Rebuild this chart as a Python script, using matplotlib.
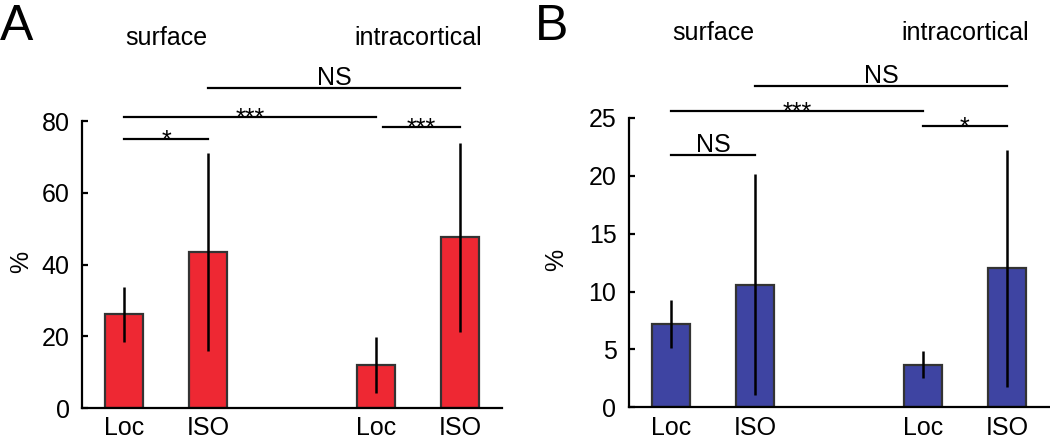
import matplotlib.pyplot as plt
import matplotlib.transforms as mtransforms
import numpy as np

plt.rcParams['font.family'] = ['Liberation Sans', 'DejaVu Sans']

# bar labels, positions along x (group gap after the 2nd bar)
labels = ['Loc', 'ISO', 'Loc', 'ISO']
xpos = [1, 2, 4, 5]

# panel A
vals_a = [26.1, 43.6, 12.0, 47.6]
err_a = [7.7, 27.6, 7.8, 26.3]
# panel B
vals_b = [7.2, 10.6, 3.7, 12.0]
err_b = [2.1, 9.5, 1.2, 10.2]

# significance bars: (x1, x2, y, label)
sig_a = [(1, 2, 75.1, '*'), (1, 4, 81.1, '***'), (4.08, 5, 78.3, '***'), (2, 5, 89.2, 'NS')]
sig_b = [(1, 2, 21.8, 'NS'), (1, 4, 25.6, '***'), (4, 5, 24.3, '*'), (2, 5, 27.7, 'NS')]


def draw_panel(ax, vals, errs, color, ymax, yticks, sigs, ylab_x):
  ax.bar(xpos, vals, width=0.46, color=color, edgecolor='#333333', linewidth=1.6, zorder=2)
  ax.errorbar(xpos, vals, yerr=errs, fmt='none', ecolor='black', elinewidth=1.8,
              capsize=0, zorder=3, clip_on=False)
  ax.set_xlim(0.5, 5.5)
  ax.set_ylim(0, ymax)
  ax.set_yticks(yticks)
  ax.set_xticks(xpos)
  ax.set_xticklabels(labels)
  for s in ['top', 'right']:
    ax.spines[s].set_visible(False)
  for s in ['left', 'bottom']:
    ax.spines[s].set_linewidth(1.6)
  ax.tick_params(axis='y', direction='in', length=4, width=1.6, labelsize=18, pad=9)
  ax.tick_params(axis='x', length=0, labelsize=18, pad=6)
  ax.set_ylabel('%', fontsize=18)
  ax.yaxis.set_label_coords(ylab_x, 0.51)

  for x1, x2, y, lab in sigs:
    ax.plot([x1, x2], [y, y], color='black', lw=1.6, clip_on=False)
    if lab == 'NS':
      dy = 2
    else:
      dy = -6.5
    ax.annotate(lab, xy=((x1 + x2) / 2, y), xytext=(0, dy), textcoords='offset points',
                ha='center', va='baseline', fontsize=18, annotation_clip=False)

  trans = mtransforms.blended_transform_factory(ax.transData, ax.transAxes)
  ax.text(1.5, 1.29, 'surface', transform=trans, ha='center', va='center', fontsize=18)
  ax.text(4.5, 1.29, 'intracortical', transform=trans, ha='center', va='center', fontsize=18)


fig = plt.figure(figsize=(10.5, 4.36), dpi=100)
ax1 = fig.add_axes([0.0781, 0.0642, 0.4, 0.658])
ax2 = fig.add_axes([0.599, 0.0654, 0.4, 0.665])

draw_panel(ax1, vals_a, err_a, '#EE2833', 80, [0, 20, 40, 60, 80], sig_a, -0.117)
draw_panel(ax2, vals_b, err_b, '#3E44A2', 25, [0, 5, 10, 15, 20, 25], sig_b, -0.146)

fig.text(0.0, 0.908, 'A', fontsize=36, ha='left', va='baseline')
fig.text(0.5095, 0.908, 'B', fontsize=36, ha='left', va='baseline')

fig.savefig('out.png', dpi=100)
